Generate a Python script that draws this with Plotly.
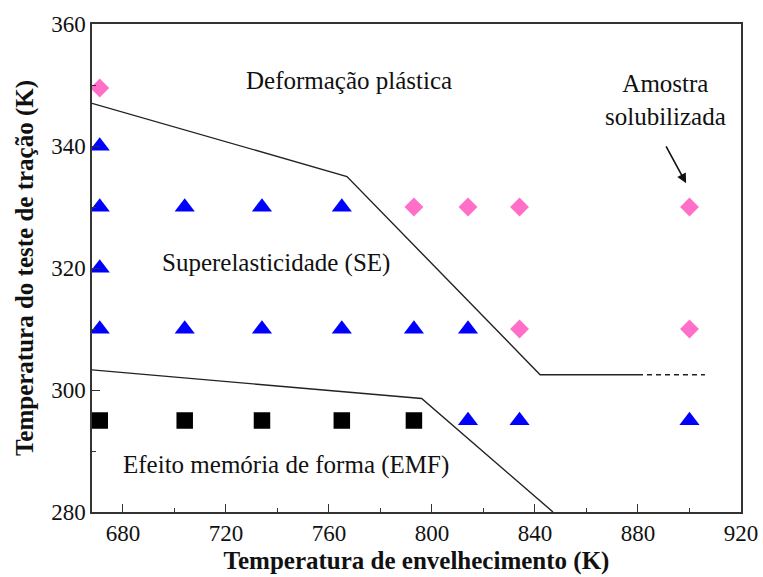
import plotly.graph_objects as go

# Data
diamond_x = [671, 793, 814, 834, 900, 834, 900]
diamond_y = [349.5, 330, 330, 330, 330, 310, 310]

triangle_x = [671, 671, 671, 671, 704, 734, 765, 704, 734, 765, 793, 814, 814, 834, 900]
triangle_y = [340, 330, 320, 310, 330, 330, 330, 310, 310, 310, 310, 310, 295, 295, 295]

square_x = [671, 704, 734, 765, 793]
square_y = [295, 295, 295, 295, 295]

upper_x = [668, 767, 842, 880]
upper_y = [347, 335, 302.5, 302.5]
upper_dash_x = [880, 906]
upper_dash_y = [302.5, 302.5]

lower_x = [668, 796, 847]
lower_y = [303.3, 298.6, 280]

FONT = "Liberation Serif, Times New Roman, serif"

fig = go.Figure()
fig.add_trace(go.Scatter(x=upper_x, y=upper_y, mode="lines",
                         line=dict(color="#222222", width=1.4), showlegend=False))
fig.add_trace(go.Scatter(x=upper_dash_x, y=upper_dash_y, mode="lines",
                         line=dict(color="#222222", width=1.4, dash="5px,4px"), showlegend=False))
fig.add_trace(go.Scatter(x=lower_x, y=lower_y, mode="lines",
                         line=dict(color="#222222", width=1.4), showlegend=False))
fig.add_trace(go.Scatter(x=diamond_x, y=diamond_y, mode="markers",
                         marker=dict(symbol="diamond", size=14.5, color="#FF6EC7"), showlegend=False))
fig.add_trace(go.Scatter(x=triangle_x, y=triangle_y, mode="markers",
                         marker=dict(symbol="triangle-up", size=17.5, color="#0000FF"), showlegend=False))
fig.add_trace(go.Scatter(x=square_x, y=square_y, mode="markers",
                         marker=dict(symbol="square", size=16.5, color="#000000"), showlegend=False))

ann_font = dict(family=FONT, size=25, color="#111111")
fig.add_annotation(x=767.7, y=350.7, text="Deformação plástica", showarrow=False, font=ann_font)
fig.add_annotation(x=739.5, y=320.8, text="Superelasticidade (SE)", showarrow=False, font=ann_font)
fig.add_annotation(x=743.4, y=287.7, text="Efeito memória de forma (EMF)", showarrow=False, font=ann_font)
fig.add_annotation(x=890.7, y=347.6, text="Amostra<br>solubilizada", showarrow=False, font=ann_font)
fig.add_annotation(x=898.7, y=333.9, ax=890.6, ay=340.2, xref="x", yref="y", axref="x", ayref="y",
                   text="", showarrow=True, arrowhead=2, arrowsize=1.2, arrowwidth=1.6, arrowcolor="#111111")

axis_common = dict(
    showline=True, linecolor="#333333", linewidth=1.5, mirror=True,
    ticks="inside", ticklen=8, tickwidth=1.3, tickcolor="#333333",
    showgrid=False, zeroline=False, automargin=False,
    tickfont=dict(family=FONT, size=23, color="#111111"),
)

fig.update_xaxes(range=[668, 920], tickvals=[680, 720, 760, 800, 840, 880, 920],
                 minor=dict(tickvals=[700, 740, 780, 820, 860, 900], ticks="inside", ticklen=4,
                            tickcolor="#333333", tickwidth=1.3),
                 title=dict(text="<b>Temperatura de envelhecimento (K)</b>",
                            font=dict(family=FONT, size=25, color="#111111"), standoff=6),
                 **axis_common)
fig.update_yaxes(range=[280, 360], tickvals=[280, 300, 320, 340, 360],
                 minor=dict(tickvals=[290, 310, 330, 350], ticks="inside", ticklen=4,
                            tickcolor="#333333", tickwidth=1.3),
                 title=dict(text="<b>Temperatura do teste de tração (K)</b>",
                            font=dict(family=FONT, size=25, color="#111111"), standoff=10),
                 **axis_common)

fig.update_layout(width=763, height=577, plot_bgcolor="white", paper_bgcolor="white",
                  margin=dict(l=92, r=22, t=24, b=65))

fig.write_html("out.html", config={"displayModeBar": False},
               post_script="document.body.style.margin='0';document.body.style.overflow='hidden';")
